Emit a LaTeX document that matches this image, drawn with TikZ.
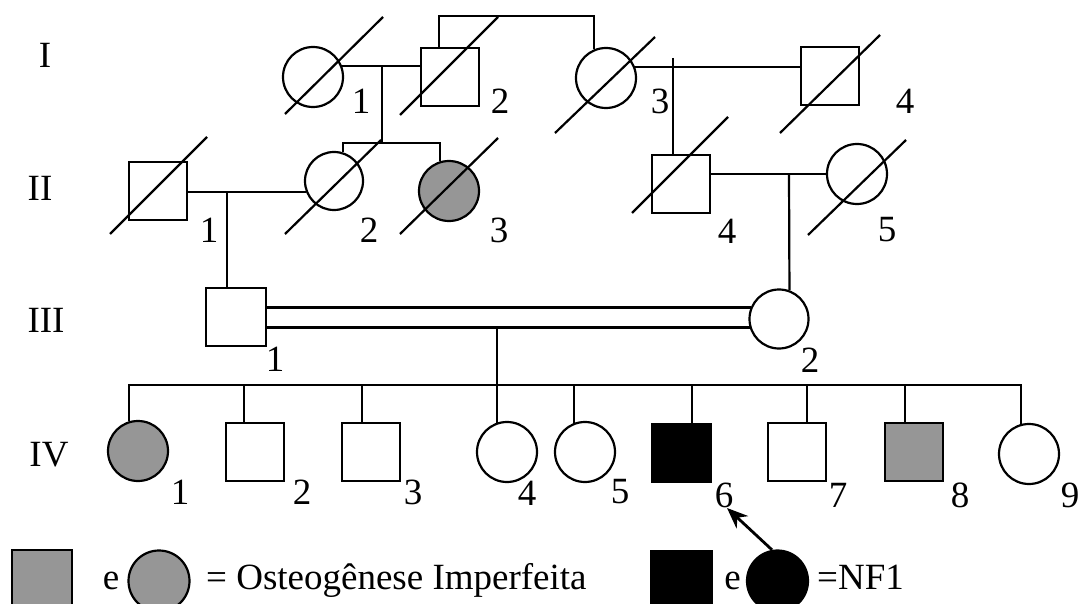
\documentclass[tikz,border=0pt]{standalone}
\usepackage{fontspec}
\setmainfont{Liberation Serif}
\usetikzlibrary{arrows.meta}
\definecolor{oigray}{RGB}{150,150,150}
\newcommand\labfont{\fontsize{37}{37}\selectfont}

\begin{document}
\begin{tikzpicture}[x=1pt,y=-1pt,
  person/.style={draw, line width=2.2pt, inner sep=0pt},
  male/.style={person, rectangle, minimum size=58pt},
  female/.style={person, circle, minimum size=60pt},
  oi/.style={fill=oigray},
  nf/.style={fill=black},
  num/.style={font=\labfont, inner sep=0pt},
  link/.style={line width=2.2pt},
  deceased/.style={line width=2.2pt},
]
\useasboundingbox (0,0) rectangle (1082,604);
\clip (0,0) rectangle (1082,604);

% generation numerals
\node[num] (gI)   at (45,55)  {I};
\node[num] (gII)  at (40,188) {II};
\node[num] (gIII) at (46,320) {III};
\node[num] (gIV)  at (49,455) {IV};

% ---------- generation I ----------
\node[female] (i1) at (313,77) {};
\node[male]   (i2) at (450,77) {};
\node[female] (i3) at (606,78) {};
\node[male]   (i4) at (830,76) {};
\node[num] (n-i1) at (361,101) {1};
\node[num] (n-i2) at (500,101) {2};
\node[num] (n-i3) at (660,101) {3};
\node[num] (n-i4) at (905,101) {4};
\draw[deceased] ([shift={(-28,37)}]i1.center) -- ([shift={(70,-60)}]i1.center);
\draw[deceased] ([shift={(-50,38)}]i2.center) -- ([shift={(48,-60)}]i2.center);
\draw[deceased] ([shift={(-51,55)}]i3.center) -- ([shift={(49,-41)}]i3.center);
\draw[deceased] ([shift={(-50,57)}]i4.center) -- ([shift={(50,-41)}]i4.center);

% ---------- generation II ----------
\node[male]                      (ii1) at (158,191) {};
\node[female, minimum size=58pt] (ii2) at (334,181) {};
\node[female, oi]                (ii3) at (449,191) {};
\node[male]                      (ii4) at (681,184) {};
\node[female]                    (ii5) at (857,174) {};
\node[num] (n-ii1) at (209,230) {1};
\node[num] (n-ii2) at (369,230) {2};
\node[num] (n-ii3) at (499,230) {3};
\node[num] (n-ii4) at (727,231) {4};
\node[num] (n-ii5) at (887,230) {5};
\draw[deceased] ([shift={(-48,43)}]ii1.center) -- ([shift={(49,-54)}]ii1.center);
\draw[deceased] ([shift={(-49,53)}]ii2.center) -- ([shift={(47,-41)}]ii2.center);
\draw[deceased] ([shift={(-49,43)}]ii3.center) -- ([shift={(49,-53)}]ii3.center);
\draw[deceased] ([shift={(-49,29)}]ii4.center) -- ([shift={(47,-67)}]ii4.center);
\draw[deceased] ([shift={(-49,61)}]ii5.center) -- ([shift={(49,-34)}]ii5.center);

% ---------- generation III ----------
\node[male, minimum width=60pt]  (iii1) at (236,317) {};
\node[female, minimum size=59pt] (iii2) at (779,319) {};
\node[num] (n-iii1) at (275,359) {1};
\node[num] (n-iii2) at (810,360) {2};

% ---------- generation IV ----------
\node[female, oi] (iv1) at (138,451) {};
\node[male]       (iv2) at (255,452) {};
\node[male]       (iv3) at (371,452) {};
\node[female]     (iv4) at (507,452) {};
\node[female]     (iv5) at (585,452) {};
\node[male, nf]   (iv6) at (681.5,453) {};
\node[male]       (iv7) at (797,452) {};
\node[male, oi]   (iv8) at (914,452) {};
\node[female]     (iv9) at (1029,454) {};
\node[num] (n-iv1) at (180,492) {1};
\node[num] (n-iv2) at (302,492) {2};
\node[num] (n-iv3) at (413,492) {3};
\node[num] (n-iv4) at (527,493) {4};
\node[num] (n-iv5) at (620,492) {5};
\node[num] (n-iv6) at (724,495) {6};
\node[num] (n-iv7) at (838,495) {7};
\node[num] (n-iv8) at (960,495) {8};
\node[num] (n-iv9) at (1070,495) {9};

% ---------- junction points ----------
\coordinate (m12)  at (382,67);
\coordinate (sib2) at (382,143);
\coordinate (m34)  at (673,58);
\coordinate (mII1) at (227,192);
\coordinate (m45)  at (789,174);
\coordinate (m3)   at (497,327);
\coordinate (sib4) at (497,385);

% ---------- connectors ----------
% generation I
\draw[link] (i1.20) -- (i2.west |- i1.20);
\draw[link] (m12) -- (sib2);
\draw[link] ([xshift=-11pt]i2.north) -- ++(0,-31) -| (i3.112);
\draw[link] (i3.20) -- (i4.west |- i3.20);
\draw[link] (m34) -- (ii4.north -| m34);
% generation II
\draw[link] (ii1.east |- ii2.202) -- (ii2.202);
\draw[link] (mII1) -- (iii1.north -| mII1);
\draw[link] (ii2.72) |- (sib2) -| (ii3.107);
\draw[link] (ii4.east |- ii5.west) -- (ii5.west);
\draw[link] (m45) -- (iii2.70);
% generation III (consanguineous union)
\draw[link] (iii1.east |- iii2.158) -- (iii2.158);
\draw[link] (iii1.east |- iii2.196) -- (iii2.196);
\draw[link] (m3) -- (sib4);
% generation IV sibship
\draw[link] (iv1.107) |- (sib4) -| (iv9.105);
\draw[link] ([xshift=-11pt]iv2.north) -- ([xshift=-11pt]iv2.north |- sib4);
\draw[link] ([xshift=-9pt]iv3.north) -- ([xshift=-9pt]iv3.north |- sib4);
\draw[link] (iv4.109) -- (iv4.109 |- sib4);
\draw[link] (iv5.110) -- (iv5.110 |- sib4);
\draw[link] ([xshift=10.5pt]iv6.north) -- ([xshift=10.5pt]iv6.north |- sib4);
\draw[link] ([xshift=10pt]iv7.north) -- ([xshift=10pt]iv7.north |- sib4);
\draw[link] ([xshift=-9pt]iv8.north) -- ([xshift=-9pt]iv8.north |- sib4);

% ---------- key ----------
\node[male, oi, minimum size=60pt]   (lgA) at (42,580) {};
\node[num, anchor=base] (lgAe) at (111,589) {e};
\node[female, oi, minimum size=61pt] (lgB) at (159,581) {};
\node[num, anchor=base west] (lgAt) at (206,589) {= Osteogênese Imperfeita};
\node[male, nf, minimum size=60pt]   (lgC) at (681.5,581) {};
\node[num, anchor=base] (lgCe) at (732.5,589) {e};
\node[female, nf, minimum size=61pt] (lgD) at (777.5,581) {};
\node[num, anchor=base west] (lgDt) at (817,589) {=NF1};

% pointer to the proband
\coordinate (tip) at (727,508);
\draw[line width=2.8pt, -{Stealth[length=21pt,width=17pt]}] (lgD.100) -- (tip);
\end{tikzpicture}
\end{document}
